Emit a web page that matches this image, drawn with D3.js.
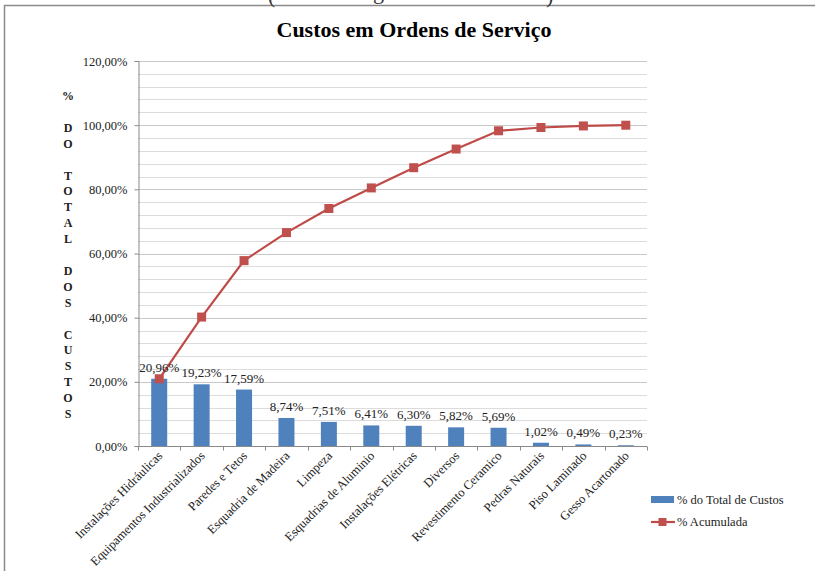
<!DOCTYPE html>
<html><head><meta charset="utf-8">
<script src="https://cdn.jsdelivr.net/npm/d3@7"></script>
<style>body{margin:0;background:#fff}svg{display:block}text{font-family:"Liberation Serif","Times New Roman",serif}</style>
</head><body>
<svg id="c" width="815" height="571"></svg>
<script>
const categories = ["Instalações Hidráulicas","Equipamentos Industrializados","Paredes e Tetos","Esquadria de Madeira","Limpeza","Esquadrias de Aluminio","Instalações Elétricas","Diversos","Revestimento Ceramico","Pedras Naturais","Piso Laminado","Gesso Acartonado"];
const pctTotal = [20.96,19.23,17.59,8.74,7.51,6.41,6.30,5.82,5.69,1.02,0.49,0.23];
const pctAcum = [20.96,40.19,57.78,66.52,74.03,80.44,86.74,92.56,98.25,99.27,99.76,99.99];
const yTicks = [0,20,40,60,80,100,120];
const yTitleLines = ["%","","D","O","","T","O","T","A","L","","D","O","S","","C","U","S","T","O","S"];
const seriesNames = ["% do Total de Custos","% Acumulada"];

const svg = d3.select("#c");
const fmt = v => d3.format(".2f")(v).replace(".", ",") + "%";

// outer frame fragments
svg.append("line").attr("x1",4).attr("x2",815).attr("y1",5.5).attr("y2",5.5).attr("stroke","#8a8a8a").attr("stroke-width",1.5);
svg.append("line").attr("x1",4.5).attr("x2",4.5).attr("y1",5).attr("y2",571).attr("stroke","#8a8a8a").attr("stroke-width",1.5);
// caption above (mostly outside the frame, as in the reference)
svg.append("text").attr("x",268).attr("y",3).attr("font-size",22).attr("fill","#333").text("(");
svg.append("text").attr("x",373).attr("y",-1).attr("font-size",22).attr("fill","#333").text("g");
svg.append("text").attr("x",546).attr("y",3).attr("font-size",22).attr("fill","#333").text(")");

svg.append("text").attr("x",414).attr("y",37).attr("text-anchor","middle")
  .attr("font-size",22).attr("font-weight","bold").text("Custos em Ordens de Serviço");

const x = d3.scaleBand().domain(categories).range([138,647]).paddingInner(0).paddingOuter(0);
const y = d3.scaleLinear().domain([0,120]).range([446,61]);

// gridlines
const minor = d3.range(0,121,4);
svg.append("g").selectAll("line").data(minor).join("line")
  .attr("x1",138).attr("x2",647).attr("y1",d=>Math.round(y(d))+0.5).attr("y2",d=>Math.round(y(d))+0.5)
  .attr("stroke",d=>d%20===0?"#c8c8c8":"#dcdcdc").attr("stroke-width",1);

// y axis
const yAxis = svg.append("g").attr("transform","translate(138.5,0)")
  .call(d3.axisLeft(y).tickValues(yTicks).tickFormat(fmt).tickSize(4).tickPadding(7));
yAxis.attr("font-family",null);
yAxis.select(".domain").attr("stroke","#8a8a8a");
yAxis.selectAll(".tick line").attr("stroke","#8a8a8a");
yAxis.selectAll("text").attr("font-size",12.5).attr("fill","#222").attr("font-family","Liberation Serif");

// x axis
const xg = svg.append("g").attr("transform","translate(0,446.5)");
xg.append("line").attr("x1",138).attr("x2",647).attr("stroke","#8a8a8a");
xg.selectAll("line.t").data(d3.range(0,13)).join("line").attr("class","t")
  .attr("x1",i=>Math.round(138+i*x.bandwidth())+0.5).attr("x2",i=>Math.round(138+i*x.bandwidth())+0.5)
  .attr("y1",0).attr("y2",4).attr("stroke","#8a8a8a");
xg.selectAll("text").data(categories).join("text")
  .attr("transform",d=>`translate(${x(d)+x.bandwidth()/2+4},10) rotate(-45)`)
  .attr("text-anchor","end").attr("font-size",12.6).attr("fill","#222").text(d=>d);

// bars
const bw = 16;
svg.append("g").selectAll("rect").data(pctTotal).join("rect")
  .attr("x",(d,i)=>x(categories[i])+x.bandwidth()/2-bw/2).attr("width",bw)
  .attr("y",d=>y(d)).attr("height",d=>446-y(d)).attr("fill","#4f81bd");

// line
const line = d3.line().x((d,i)=>x(categories[i])+x.bandwidth()/2).y(d=>y(d));
svg.append("path").datum(pctAcum).attr("d",line).attr("fill","none").attr("stroke","#be4b48").attr("stroke-width",2.2);
const ms = 9;
svg.append("g").selectAll("rect").data(pctAcum).join("rect")
  .attr("x",(d,i)=>x(categories[i])+x.bandwidth()/2-ms/2).attr("y",d=>y(d)-ms/2)
  .attr("width",ms).attr("height",ms).attr("fill","#c0504d");

// data labels
svg.append("g").selectAll("text").data(pctTotal).join("text")
  .attr("x",(d,i)=>x(categories[i])+x.bandwidth()/2).attr("y",d=>y(d)-7)
  .attr("text-anchor","middle").attr("font-size",13).attr("fill","#222").text(d=>fmt(d));

// y title
svg.append("g").selectAll("text").data(yTitleLines).join("text")
  .attr("x",68).attr("y",(d,i)=>100+i*15.9).attr("text-anchor","middle")
  .attr("font-size",12).attr("font-weight","bold").attr("fill","#222").text(d=>d);

// legend
const lg = svg.append("g");
lg.append("rect").attr("x",651).attr("y",496).attr("width",23).attr("height",7).attr("fill","#4f81bd");
lg.append("text").attr("x",677).attr("y",503.5).attr("font-size",12.5).attr("fill","#222").text(seriesNames[0]);
lg.append("line").attr("x1",651).attr("x2",675).attr("y1",522).attr("y2",522).attr("stroke","#be4b48").attr("stroke-width",2.2);
lg.append("rect").attr("x",658.5).attr("y",518).attr("width",8).attr("height",8).attr("fill","#c0504d");
lg.append("text").attr("x",677).attr("y",526).attr("font-size",12.5).attr("fill","#222").text(seriesNames[1]);
</script>
</body></html>
